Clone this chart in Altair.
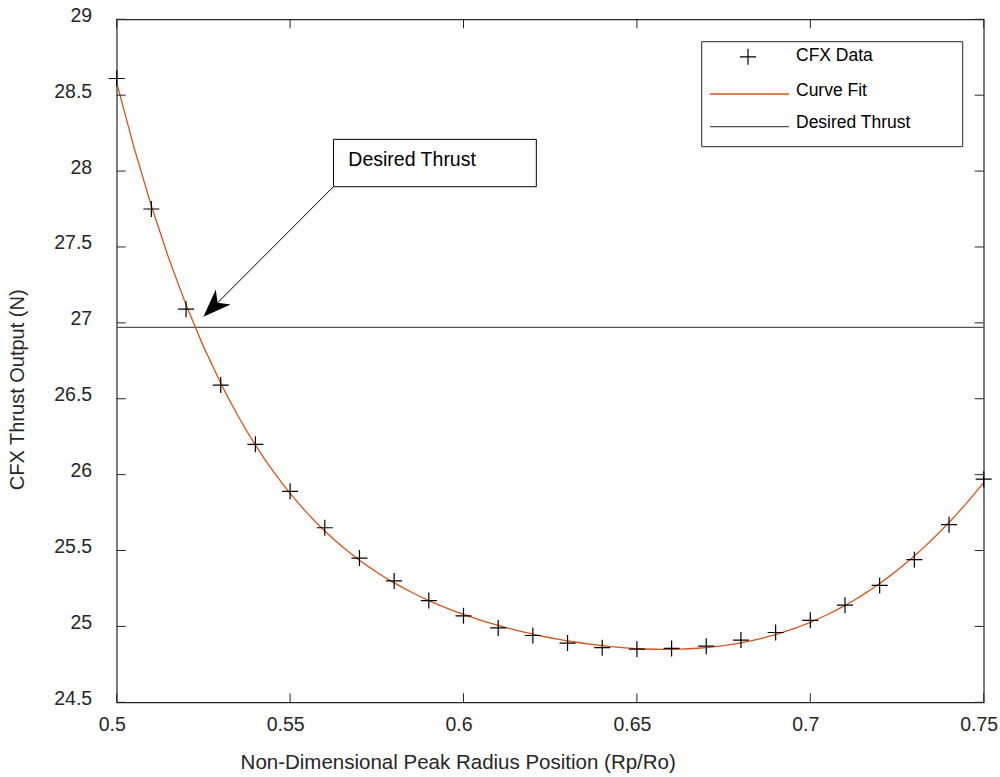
import altair as alt
import pandas as pd

# ---- data ----
rp_ro = [0.50, 0.51, 0.52, 0.53, 0.54, 0.55, 0.56, 0.57, 0.58, 0.59, 0.60, 0.61, 0.62,
         0.63, 0.64, 0.65, 0.66, 0.67, 0.68, 0.69, 0.70, 0.71, 0.72, 0.73, 0.74, 0.75]
thrust = [28.61, 27.75, 27.09, 26.59, 26.20, 25.89, 25.65, 25.45, 25.30, 25.17, 25.07, 24.99, 24.94,
          24.89, 24.86, 24.85, 24.855, 24.87, 24.91, 24.96, 25.04, 25.14, 25.27, 25.44, 25.67, 25.97]
desired_thrust = 26.97

x_ticks = [0.5, 0.55, 0.6, 0.65, 0.7, 0.75]
y_ticks = [24.5, 25, 25.5, 26, 26.5, 27, 27.5, 28, 28.5, 29]

legend_labels = ["CFX Data", "Curve Fit", "Desired Thrust"]
annotation_text = "Desired Thrust"
# annotation geometry in data units (box corners, arrow tip)
ann_box_x = [0.5625, 0.621]
ann_box_y = [27.897, 28.209]
ann_text_x = 0.5668
ann_text_y = 28.075
arrow_tip = (0.5250, 27.04)

W, H = 867, 683
FONT = "Liberation Sans"
AX = "#262626"
ORANGE = "#D95319"
GRAY = "#555555"

df = pd.DataFrame({"x": rp_ro, "y": thrust})
xs = alt.Scale(domain=[0.5, 0.75], nice=False, zero=False)
ys = alt.Scale(domain=[24.5, 29], nice=False, zero=False)

x_axis = alt.Axis(values=x_ticks, format="~g", ticks=False, tickSize=0, domain=False, grid=False,
                  labelFont=FONT, labelFontSize=19.5, labelColor=AX, labelPadding=13, labelOffset=-5,
                  labelFlush=False, labelOverlap=False,
                  title="Non-Dimensional Peak Radius Position (Rp/Ro)", titleFont=FONT,
                  titleFontSize=20.5, titleFontWeight="normal", titleColor=AX,
                  titleX=341, titleY=60, titleAlign="center", titleBaseline="middle")
y_axis = alt.Axis(values=y_ticks, format="~g", ticks=False, tickSize=0, domain=False, grid=False,
                  labelFont=FONT, labelFontSize=19.5, labelColor=AX, labelPadding=25, labelOffset=-4,
                  labelFlush=False, labelOverlap=False,
                  title="CFX Thrust Output (N)", titleFont=FONT, titleFontSize=20,
                  titleFontWeight="normal", titleColor=AX, titleAngle=270,
                  titleX=-99, titleY=370, titleAlign="center", titleBaseline="middle")

base_axes = alt.Chart(df).mark_point(opacity=0).encode(
    x=alt.X("x:Q", scale=xs, axis=x_axis),
    y=alt.Y("y:Q", scale=ys, axis=y_axis),
)

# inward ticks on all four sides
xt = pd.DataFrame({"t": x_ticks})
yt = pd.DataFrame({"t": y_ticks})
tk = dict(color=AX, strokeWidth=1)
ticks_bottom = alt.Chart(xt).mark_rule(**tk).encode(x=alt.X("t:Q", scale=xs), y=alt.value(H), y2=alt.value(H - 9))
ticks_top = alt.Chart(xt).mark_rule(**tk).encode(x=alt.X("t:Q", scale=xs), y=alt.value(0), y2=alt.value(9))
ticks_left = alt.Chart(yt).mark_rule(**tk).encode(y=alt.Y("t:Q", scale=ys), x=alt.value(0), x2=alt.value(9))
ticks_right = alt.Chart(yt).mark_rule(**tk).encode(y=alt.Y("t:Q", scale=ys), x=alt.value(W), x2=alt.value(W - 9))

fit = alt.Chart(df).transform_regression(
    "x", "y", method="poly", order=5, extent=[0.5, 0.75]
).mark_line(color=ORANGE, strokeWidth=1.3, clip=True).encode(
    x=alt.X("x:Q", scale=xs), y=alt.Y("y:Q", scale=ys)
)

desired = alt.Chart(pd.DataFrame({"y": [desired_thrust]})).mark_rule(color=GRAY, strokeWidth=1.3).encode(
    y=alt.Y("y:Q", scale=ys)
)

PLUS = "M-1,0L1,0M0,-1L0,1"
points = alt.Chart(df).mark_point(shape=PLUS, filled=False, color="black", strokeWidth=1.2,
                                  size=256, opacity=1).encode(
    x=alt.X("x:Q", scale=xs), y=alt.Y("y:Q", scale=ys)
)

# annotation
ann_df = pd.DataFrame({"x": [ann_box_x[0]], "x2": [ann_box_x[1]], "y": [ann_box_y[0]], "y2": [ann_box_y[1]]})
ann_box = alt.Chart(ann_df).mark_rect(fill="white", stroke="black", strokeWidth=1).encode(
    x=alt.X("x:Q", scale=xs), x2="x2:Q", y=alt.Y("y:Q", scale=ys), y2="y2:Q"
)
ann_txt = alt.Chart(pd.DataFrame({"x": [ann_text_x], "y": [ann_text_y], "t": [annotation_text]})).mark_text(
    align="left", baseline="middle", font=FONT, fontSize=19.5, color="black"
).encode(x=alt.X("x:Q", scale=xs), y=alt.Y("y:Q", scale=ys), text="t:N")
arrow_df = pd.DataFrame({"x": [ann_box_x[0]], "y": [ann_box_y[0]], "x2": [arrow_tip[0] + 0.004], "y2": [arrow_tip[1] + 0.09]})
arrow_line = alt.Chart(arrow_df).mark_rule(color="black", strokeWidth=1).encode(
    x=alt.X("x:Q", scale=xs), y=alt.Y("y:Q", scale=ys), x2="x2:Q", y2="y2:Q"
)
HEAD = "M0,0L1.05,2.8L0,2L-1.05,2.8Z"
arrow_head = alt.Chart(pd.DataFrame({"x": [arrow_tip[0]], "y": [arrow_tip[1]]})).mark_point(
    shape=HEAD, filled=True, color="black", size=400, angle=225, opacity=1
).encode(x=alt.X("x:Q", scale=xs), y=alt.Y("y:Q", scale=ys))

# legend (drawn inside the plot, top-right)
lg_box = alt.Chart(pd.DataFrame({"a": [0]})).mark_rect(fill="white", stroke=AX, strokeWidth=1).encode(
    x=alt.value(585), x2=alt.value(846), y=alt.value(22.4), y2=alt.value(127.4)
)
lg_plus = alt.Chart(pd.DataFrame({"a": [0]})).mark_point(
    shape=PLUS, filled=False, color="black", strokeWidth=1.2, size=256, opacity=1
).encode(x=alt.value(631.3), y=alt.value(37.5))
lg_fit = alt.Chart(pd.DataFrame({"a": [0]})).mark_rule(color=ORANGE, strokeWidth=1.3).encode(
    x=alt.value(593.3), x2=alt.value(672.3), y=alt.value(74.7)
)
lg_des = alt.Chart(pd.DataFrame({"a": [0]})).mark_rule(color=GRAY, strokeWidth=1.3).encode(
    x=alt.value(593.3), x2=alt.value(672.3), y=alt.value(107.4)
)
lg_text = alt.Chart(pd.DataFrame({"t": legend_labels, "yy": [36.7, 71.7, 103.7]})).mark_text(
    align="left", baseline="middle", font=FONT, fontSize=17.5, color="black"
).encode(x=alt.value(679.3), y=alt.Y("yy:Q", scale=None), text="t:N")

chart = alt.layer(
    base_axes, desired, fit, points, ann_box, ann_txt, arrow_line, arrow_head,
    lg_box, lg_fit, lg_des, lg_plus, lg_text,
    ticks_bottom, ticks_top, ticks_left, ticks_right,
).properties(
    width=W, height=H,
    autosize=alt.AutoSizeParams(type="none"),
    padding={"left": 116.7, "top": 19.3, "right": 16.3, "bottom": 74.7},
    background="white",
).configure_view(stroke=AX, strokeWidth=1.2)

chart.save("out.html", embed_options={"renderer": "svg", "actions": False})
